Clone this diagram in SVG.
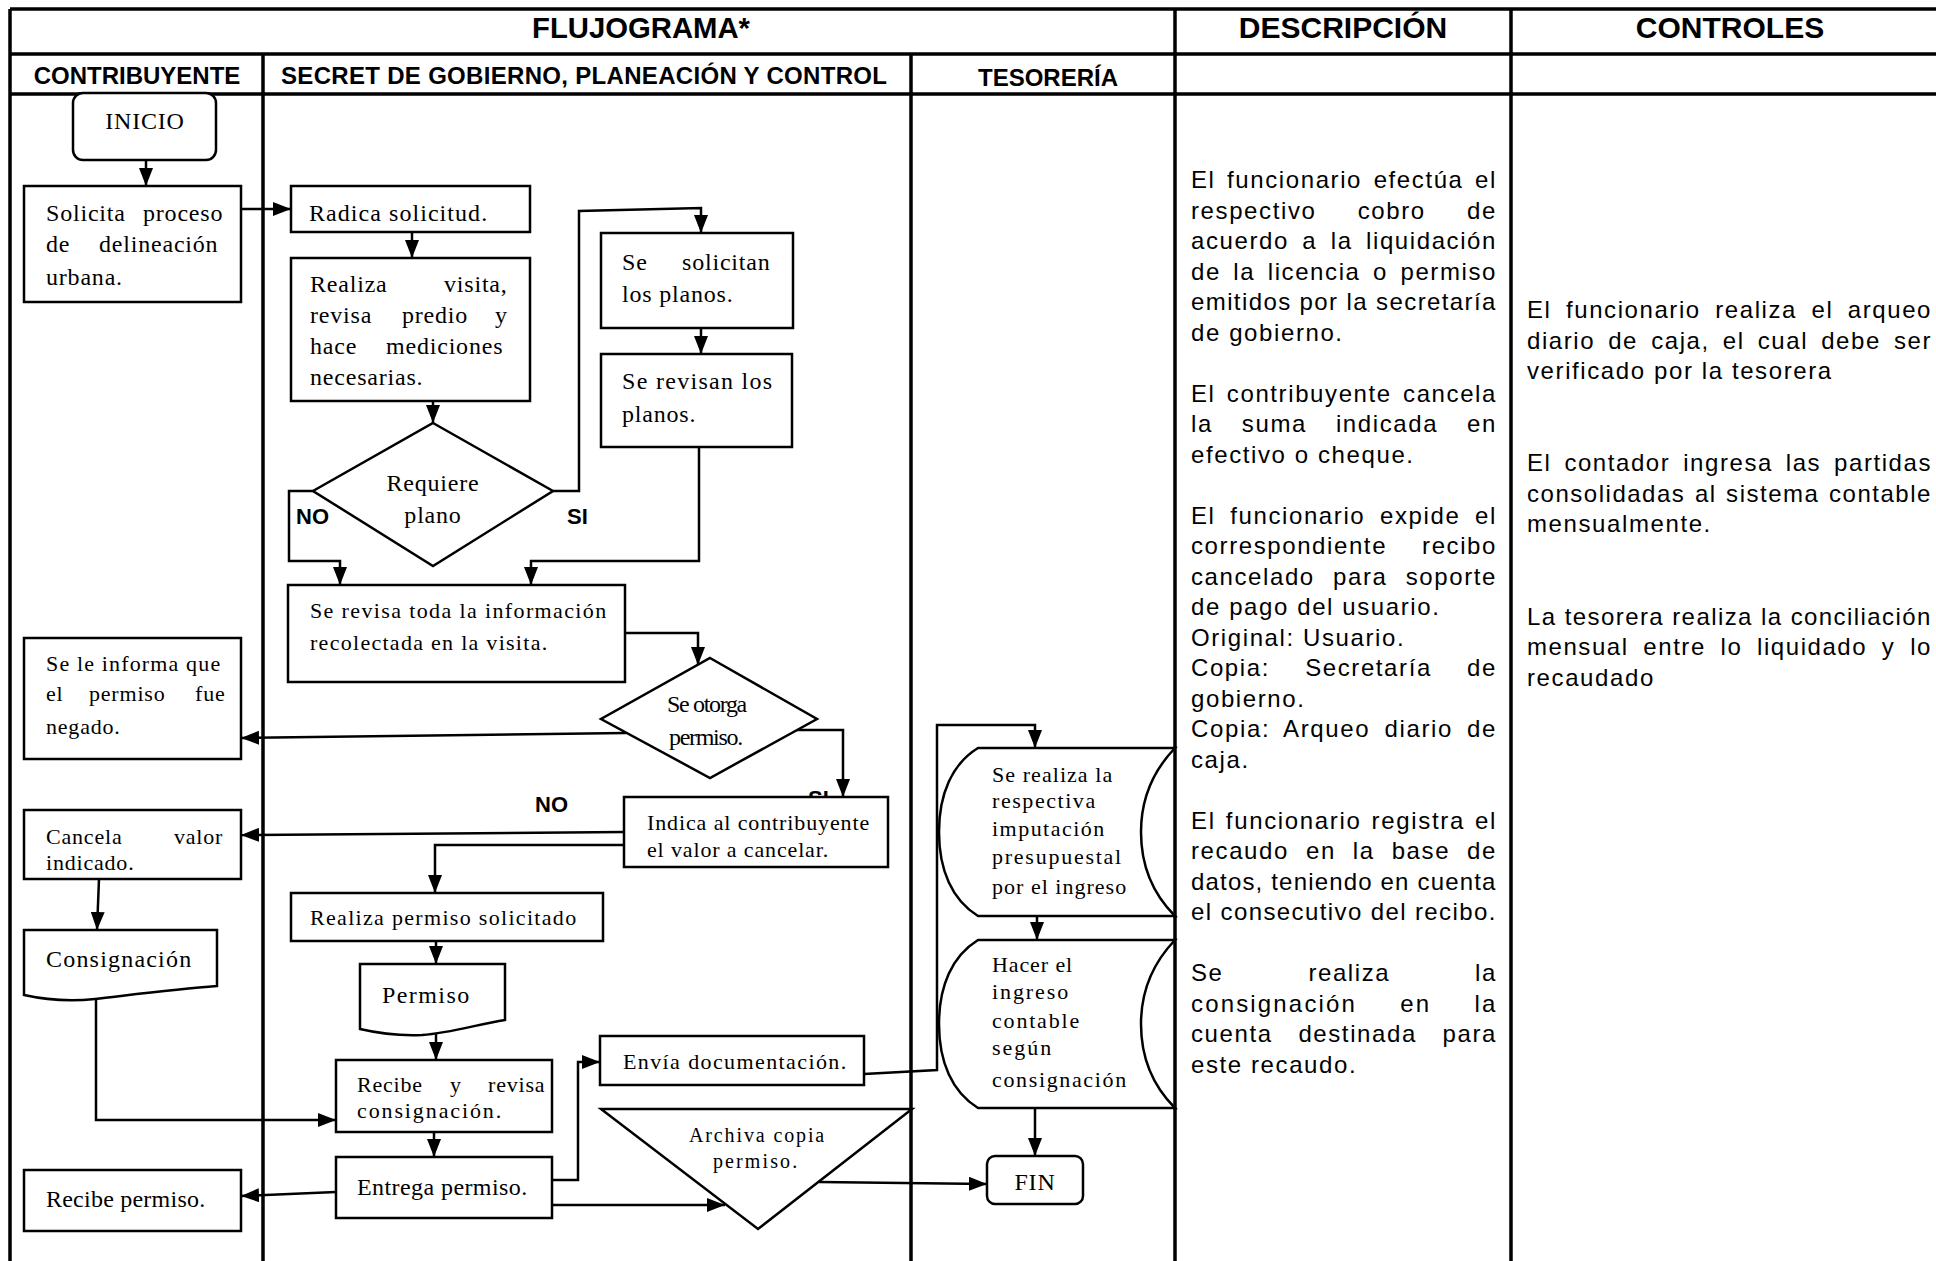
<svg xmlns="http://www.w3.org/2000/svg" width="1936" height="1261" viewBox="0 0 1936 1261">
<defs>
<style>
.t{font-family:"Liberation Serif","Times New Roman",serif;font-size:24px;fill:#000;letter-spacing:0.8px}
.ts{font-size:22px}
.tx{font-size:20px}
.d{font-family:"Liberation Sans",Arial,sans-serif;font-size:24px;fill:#000;letter-spacing:1.6px}
.h{font-family:"Liberation Sans",Arial,sans-serif;font-weight:bold;fill:#000}
.h1{font-size:30px}
.h2{font-size:24px}
.lb{font-family:"Liberation Sans",Arial,sans-serif;font-weight:bold;font-size:22px;fill:#000}
.box{fill:#fff;stroke:#000;stroke-width:2.5}
.ln{fill:none;stroke:#000;stroke-width:2.5;marker-end:url(#ah)}
.grid{stroke:#000;stroke-width:3.5;fill:none}
</style>
<marker id="ah" viewBox="0 0 18 14" refX="18" refY="7" markerWidth="18" markerHeight="14" markerUnits="userSpaceOnUse" orient="auto"><path d="M0,0 L18,7 L0,14 z" fill="#000"/></marker>
</defs>
<rect x="0" y="0" width="1936" height="1261" fill="#fff"/>

<g id="table">
<path class="grid" d="M10,9 H1936 M10,54 H1936 M10,94 H1936 M10,9 V1261 M263,54 V1261 M911,54 V1261 M1175,9 V1261 M1511,9 V1261"/>
<text class="h h1" x="532" y="38" textLength="218" lengthAdjust="spacingAndGlyphs">FLUJOGRAMA*</text>
<text class="h h1" x="1343" y="38" text-anchor="middle">DESCRIPCIÓN</text>
<text class="h h1" x="1730" y="38" text-anchor="middle">CONTROLES</text>
<text class="h h2" x="137" y="84" text-anchor="middle">CONTRIBUYENTE</text>
<text class="h h2" x="281" y="84" textLength="606" lengthAdjust="spacing">SECRET DE GOBIERNO, PLANEACIÓN Y CONTROL</text>
<text class="h h2" x="1048" y="86" text-anchor="middle">TESORERÍA</text>
</g>

<g id="connectors">
<path class="ln" d="M146,160 V186"/>
<path class="ln" d="M241,209 H291"/>
<path class="ln" d="M412,232 V258"/>
<path class="ln" d="M433,401 V423"/>
<path class="ln" d="M313,491 H289 V561 H340 V585"/>
<path class="ln" d="M553,491 H579 V211 L701,208 V233"/>
<path class="ln" d="M701,328 V354"/>
<path class="ln" d="M699,447 V561 H531 V585"/>
<path class="ln" d="M625,633 H698 V665"/>
<path class="ln" d="M626,733 L241,738"/>
<path class="ln" d="M792,730 H843 V797"/>
<path class="ln" d="M624,832 L241,835"/>
<path class="ln" d="M624,845 H435 V893"/>
<path class="ln" d="M99,879 L97,930"/>
<path class="ln" d="M96,1000 V1120 H336"/>
<path class="ln" d="M436,942 V964"/>
<path class="ln" d="M436,1034 V1060"/>
<path class="ln" d="M434,1132 V1157"/>
<path class="ln" d="M336,1192 L241,1196"/>
<path class="ln" d="M552,1180 H578 V1062 H600"/>
<path class="ln" d="M552,1205 H725"/>
<path class="ln" d="M819,1182 L987,1184"/>
<path class="ln" d="M864,1074 L937,1070 V725 H1035 V748"/>
<path class="ln" d="M1037,916 V940"/>
<path class="ln" d="M1035,1108 V1156"/>
<text class="lb" x="296" y="524">NO</text>
<text class="lb" x="567" y="524">SI</text>
<text class="lb" x="535" y="812">NO</text>
<text class="lb" x="808" y="806" font-size="20">SI</text>
</g>

<g id="n_inicio">
<rect class="box" x="73" y="93" width="143" height="67" rx="10"/>
<text class="t" x="145" y="129" text-anchor="middle" font-size="25">INICIO</text>
</g>
<g id="n_solicita">
<rect class="box" x="24" y="186" width="217" height="116"/>
<text class="t" y="221"><tspan x="46">Solicita</tspan><tspan x="143">proceso</tspan></text>
<text class="t" y="252"><tspan x="46">de</tspan><tspan x="99">delineación</tspan></text>
<text class="t" x="46" y="285">urbana.</text>
</g>
<g id="n_radica">
<rect class="box" x="291" y="186" width="239" height="46"/>
<text class="t" x="309" y="221" textLength="179" lengthAdjust="spacing">Radica solicitud.</text>
</g>
<g id="n_realiza">
<rect class="box" x="291" y="258" width="239" height="143"/>
<text class="t" y="292"><tspan x="310">Realiza</tspan><tspan x="444">visita,</tspan></text>
<text class="t" y="323"><tspan x="310">revisa</tspan><tspan x="402">predio</tspan><tspan x="495">y</tspan></text>
<text class="t" y="354"><tspan x="310">hace</tspan><tspan x="386">mediciones</tspan></text>
<text class="t" x="310" y="385">necesarias.</text>
</g>
<g id="n_requiere">
<polygon class="box" points="433,423 553,491 433,566 313,491"/>
<text class="t" x="433" y="491" text-anchor="middle">Requiere</text>
<text class="t" x="433" y="523" text-anchor="middle">plano</text>
</g>
<g id="n_solicitan">
<rect class="box" x="601" y="233" width="192" height="95"/>
<text class="t" y="270"><tspan x="622">Se</tspan><tspan x="682">solicitan</tspan></text>
<text class="t" x="622" y="302">los planos.</text>
</g>
<g id="n_revisan">
<rect class="box" x="601" y="354" width="191" height="93"/>
<text class="t" x="622" y="389" textLength="151" lengthAdjust="spacing">Se revisan los</text>
<text class="t" x="622" y="422">planos.</text>
</g>
<g id="n_revisa_toda">
<rect class="box" x="288" y="585" width="337" height="97"/>
<text class="t ts" x="310" y="618" textLength="297" lengthAdjust="spacing">Se revisa toda la información</text>
<text class="t ts" x="310" y="650" textLength="238" lengthAdjust="spacing">recolectada en la visita.</text>
</g>
<g id="n_otorga">
<polygon class="box" points="710,658 817,719 710,778 601,719"/>
<text class="t" x="667" y="712" font-size="19" textLength="81" lengthAdjust="spacing">Se otorga</text>
<text class="t" x="669" y="745" font-size="19" textLength="75" lengthAdjust="spacing">permiso.</text>
</g>
<g id="n_indica">
<rect class="box" x="624" y="797" width="264" height="70"/>
<text class="t ts" x="647" y="830" textLength="223" lengthAdjust="spacing">Indica al contribuyente</text>
<text class="t ts" x="647" y="857" textLength="182" lengthAdjust="spacing">el valor a cancelar.</text>
</g>
<g id="n_informa">
<rect class="box" x="24" y="638" width="217" height="121"/>
<text class="t ts" x="46" y="671" textLength="175" lengthAdjust="spacing">Se le informa que</text>
<text class="t ts" y="701"><tspan x="46">el</tspan><tspan x="89">permiso</tspan><tspan x="195">fue</tspan></text>
<text class="t ts" x="46" y="734">negado.</text>
</g>
<g id="n_cancela">
<rect class="box" x="24" y="810" width="217" height="69"/>
<text class="t ts" y="844"><tspan x="46">Cancela</tspan><tspan x="174">valor</tspan></text>
<text class="t ts" x="46" y="870">indicado.</text>
</g>
<g id="n_consignacion">
<path class="box" d="M24,930 H217 V986 C175,989 130,995 95,999 C65,1002 42,999 24,995 Z"/>
<text class="t" x="46" y="967" textLength="146" lengthAdjust="spacing">Consignación</text>
</g>
<g id="n_realiza_permiso">
<rect class="box" x="291" y="893" width="312" height="48"/>
<text class="t ts" x="310" y="925" textLength="267" lengthAdjust="spacing">Realiza permiso solicitado</text>
</g>
<g id="n_permiso">
<path class="box" d="M360,964 H505 V1020 C478,1024 452,1033 422,1035 C398,1036 377,1033 360,1029 Z"/>
<text class="t" x="382" y="1003" textLength="88" lengthAdjust="spacing">Permiso</text>
</g>
<g id="n_recibe_revisa">
<rect class="box" x="336" y="1060" width="216" height="72"/>
<text class="t ts" y="1092"><tspan x="357">Recibe</tspan><tspan x="450">y</tspan><tspan x="488">revisa</tspan></text>
<text class="t ts" x="357" y="1118" textLength="145" lengthAdjust="spacing">consignación.</text>
</g>
<g id="n_entrega">
<rect class="box" x="336" y="1157" width="216" height="61"/>
<text class="t" x="357" y="1195" textLength="171" lengthAdjust="spacing">Entrega permiso.</text>
</g>
<g id="n_envia">
<rect class="box" x="600" y="1036" width="264" height="49"/>
<text class="t ts" x="623" y="1069" textLength="224" lengthAdjust="spacing">Envía documentación.</text>
</g>
<g id="n_archiva">
<polygon class="box" points="601,1109 912,1109 758,1229"/>
<text class="t tx" x="689" y="1142" textLength="136" lengthAdjust="spacing">Archiva copia</text>
<text class="t tx" x="713" y="1168" textLength="85" lengthAdjust="spacing">permiso.</text>
</g>
<g id="n_recibe_permiso">
<rect class="box" x="24" y="1170" width="217" height="61"/>
<text class="t" x="46" y="1207" textLength="160" lengthAdjust="spacing">Recibe permiso.</text>
</g>
<g id="n_imputacion">
<path class="box" d="M978,748 H1175 C1152,772 1141,800 1141,832 C1141,866 1152,893 1175,916 H978 C952,900 939,870 939,832 C939,794 952,764 978,748 Z"/>
<text class="t ts" x="992" y="782" textLength="121" lengthAdjust="spacing">Se realiza la</text>
<text class="t ts" x="992" y="808" textLength="104" lengthAdjust="spacing">respectiva</text>
<text class="t ts" x="992" y="836" textLength="113" lengthAdjust="spacing">imputación</text>
<text class="t ts" x="992" y="864" textLength="130" lengthAdjust="spacing">presupuestal</text>
<text class="t ts" x="992" y="894" textLength="135" lengthAdjust="spacing">por el ingreso</text>
</g>
<g id="n_ingreso">
<path class="box" d="M978,940 H1175 C1152,964 1141,992 1141,1024 C1141,1058 1152,1085 1175,1108 H978 C952,1092 939,1062 939,1024 C939,986 952,956 978,940 Z"/>
<text class="t ts" x="992" y="972" textLength="81" lengthAdjust="spacing">Hacer el</text>
<text class="t ts" x="992" y="999" textLength="77" lengthAdjust="spacing">ingreso</text>
<text class="t ts" x="992" y="1028" textLength="88" lengthAdjust="spacing">contable</text>
<text class="t ts" x="992" y="1055" textLength="60" lengthAdjust="spacing">según</text>
<text class="t ts" x="992" y="1087" textLength="135" lengthAdjust="spacing">consignación</text>
</g>
<g id="n_fin">
<rect class="box" x="987" y="1156" width="96" height="48" rx="8"/>
<text class="t" x="1035" y="1190" text-anchor="middle">FIN</text>
</g>

<g id="descripcion">
<text class="d" x="1191" y="188" textLength="306" lengthAdjust="spacing" style="word-spacing:3.3px">El funcionario efectúa el</text>
<text class="d" x="1191" y="218.5" textLength="306" lengthAdjust="spacing" style="word-spacing:33px">respectivo cobro de</text>
<text class="d" x="1191" y="249" textLength="306" lengthAdjust="spacing" style="word-spacing:5.2px">acuerdo a la liquidación</text>
<text class="d" x="1191" y="279.5" textLength="306" lengthAdjust="spacing" style="word-spacing:4.2px">de la licencia o permiso</text>
<text class="d" x="1191" y="310" textLength="306" lengthAdjust="spacing">emitidos por la secretaría</text>
<text class="d" x="1191" y="340.5">de gobierno.</text>
<text class="d" x="1191" y="401.5" textLength="306" lengthAdjust="spacing" style="word-spacing:3px">El contribuyente cancela</text>
<text class="d" x="1191" y="432" textLength="306" lengthAdjust="spacing" style="word-spacing:20.7px">la suma indicada en</text>
<text class="d" x="1191" y="462.5">efectivo o cheque.</text>
<text class="d" x="1191" y="523.5" textLength="306" lengthAdjust="spacing" style="word-spacing:6.5px">El funcionario expide el</text>
<text class="d" x="1191" y="554" textLength="306" lengthAdjust="spacing" style="word-spacing:26.7px">correspondiente recibo</text>
<text class="d" x="1191" y="584.5" textLength="306" lengthAdjust="spacing" style="word-spacing:10px">cancelado para soporte</text>
<text class="d" x="1191" y="615">de pago del usuario.</text>
<text class="d" x="1191" y="645.5">Original: Usuario.</text>
<text class="d" x="1191" y="676" textLength="306" lengthAdjust="spacing" style="word-spacing:27px">Copia: Secretaría de</text>
<text class="d" x="1191" y="706.5">gobierno.</text>
<text class="d" x="1191" y="737" textLength="306" lengthAdjust="spacing" style="word-spacing:5.7px">Copia: Arqueo diario de</text>
<text class="d" x="1191" y="767.5">caja.</text>
<text class="d" x="1191" y="828.5" textLength="306" lengthAdjust="spacing" style="word-spacing:1.8px">El funcionario registra el</text>
<text class="d" x="1191" y="859" textLength="306" lengthAdjust="spacing" style="word-spacing:8.7px">recaudo en la base de</text>
<text class="d" x="1191" y="889.5" textLength="306" lengthAdjust="spacing">datos, teniendo en cuenta</text>
<text class="d" x="1191" y="920" textLength="306" lengthAdjust="spacing">el consecutivo del recibo.</text>
<text class="d" x="1191" y="981" textLength="306" lengthAdjust="spacing" style="word-spacing:76.6px">Se realiza la</text>
<text class="d" x="1191" y="1011.5" textLength="306" lengthAdjust="spacing" style="word-spacing:34.4px">consignación en la</text>
<text class="d" x="1191" y="1042" textLength="306" lengthAdjust="spacing" style="word-spacing:17.5px">cuenta destinada para</text>
<text class="d" x="1191" y="1072.5">este recaudo.</text>
</g>

<g id="controles">
<text class="d" x="1527" y="318" textLength="405" lengthAdjust="spacing" style="word-spacing:6.3px">El funcionario realiza el arqueo</text>
<text class="d" x="1527" y="348.5" textLength="405" lengthAdjust="spacing" style="word-spacing:4.9px">diario de caja, el cual debe ser</text>
<text class="d" x="1527" y="379">verificado por la tesorera</text>
<text class="d" x="1527" y="471" textLength="405" lengthAdjust="spacing" style="word-spacing:4.7px">El contador ingresa las partidas</text>
<text class="d" x="1527" y="501.5" textLength="405" lengthAdjust="spacing" style="word-spacing:1.3px">consolidadas al sistema contable</text>
<text class="d" x="1527" y="532">mensualmente.</text>
<text class="d" x="1527" y="624.5" textLength="405" lengthAdjust="spacing">La tesorera realiza la conciliación</text>
<text class="d" x="1527" y="655" textLength="405" lengthAdjust="spacing" style="word-spacing:6.5px">mensual entre lo liquidado y lo</text>
<text class="d" x="1527" y="685.5">recaudado</text>
</g>
</svg>
